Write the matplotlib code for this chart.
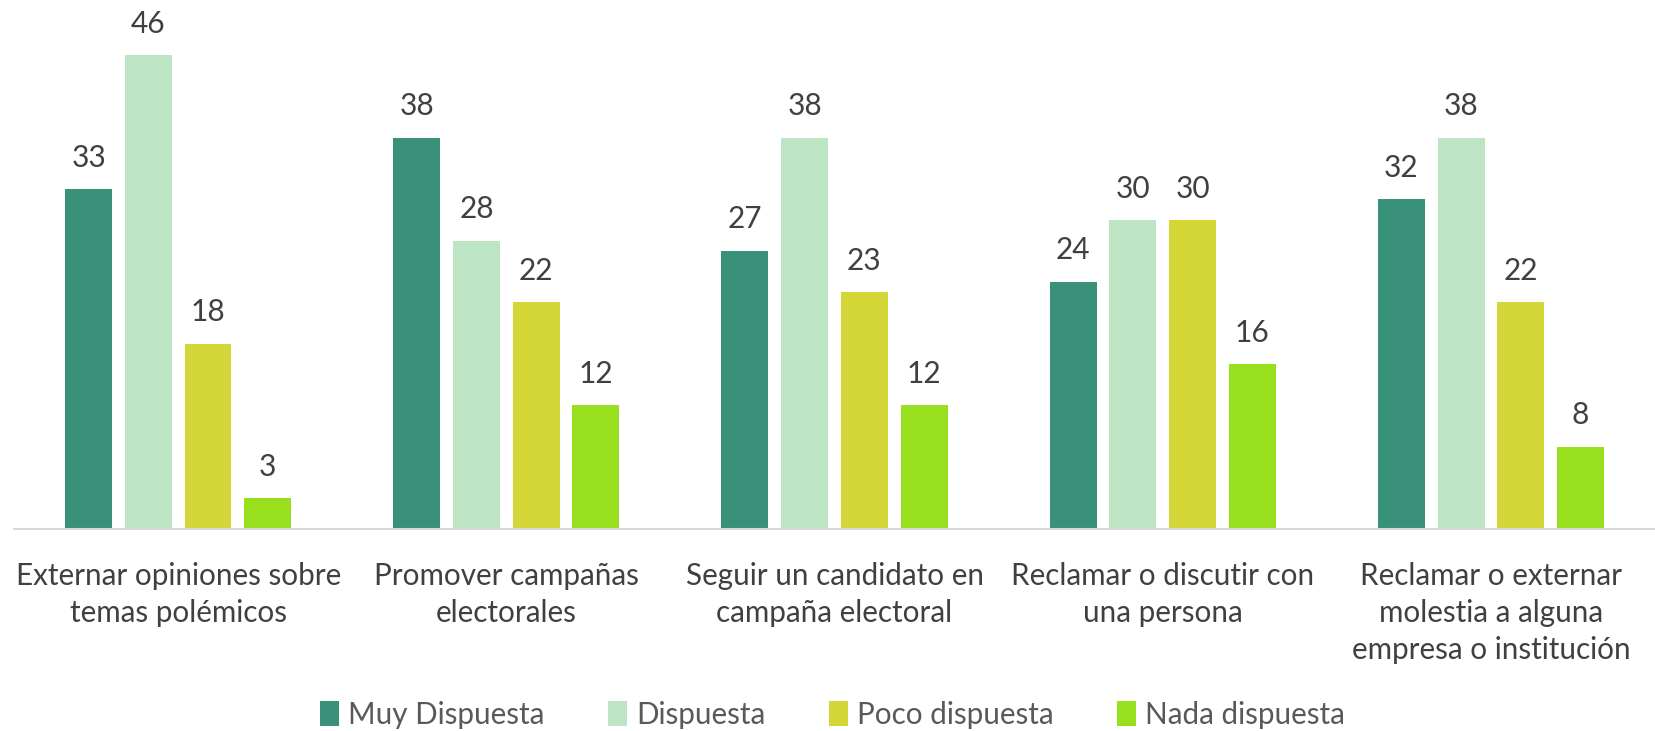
import numpy as np
import matplotlib.pyplot as plt

plt.rcParams['font.family'] = ['Lato', 'DejaVu Sans']

categories = ["Externar opiniones sobre\ntemas polémicos",
              "Promover campañas\nelectorales",
              "Seguir un candidato en\ncampaña electoral",
              "Reclamar o discutir con\nuna persona",
              "Reclamar o externar\nmolestia a alguna\nempresa o institución"]
series = ["Muy Dispuesta", "Dispuesta", "Poco dispuesta", "Nada dispuesta"]
muy = [33, 38, 27, 24, 32]
dispuesta = [46, 28, 38, 30, 38]
poco = [18, 22, 23, 30, 22]
nada = [3, 12, 12, 16, 8]
colors = ["#3A917A", "#BDE5C4", "#D4D637", "#98E01E"]

values = [muy, dispuesta, poco, nada]
x = np.arange(len(categories))
pitch = 0.182
width = 0.143

fig = plt.figure(figsize=(16.55, 7.31), dpi=100)
ax = fig.add_axes([0.0085, 0.2763, 0.9915, 0.7045])

for i, (name, vals, c) in enumerate(zip(series, values, colors)):
    pos = x + (i - 1.5) * pitch
    bars = ax.bar(pos, vals, width=width, color=c, label=name)
    for b, v in zip(bars, vals):
        ax.text(b.get_x() + b.get_width() / 2, v + 1.7, str(v),
                ha='center', va='bottom', fontsize=21.5, color='#404040')

ax.set_xlim(-0.5, len(categories) - 0.5)
ax.set_ylim(0, 50)
ax.set_yticks([])
ax.set_xticks(x)
ax.set_xticklabels(categories, fontsize=21.3, color='#404040', linespacing=1.38)
ax.tick_params(axis='x', length=0, pad=24)
for s in ['top', 'right', 'left']:
    ax.spines[s].set_visible(False)
ax.spines['bottom'].set_color('#D9D9D9')
ax.spines['bottom'].set_linewidth(1.5)

fig.legend(loc='center', bbox_to_anchor=(0.503, 0.022), ncol=4, frameon=False,
           fontsize=21.3, labelcolor='#595959', handlelength=0.65, handleheight=0.9,
           handletextpad=0.3, columnspacing=2.15)

fig.savefig('out.png', dpi=100)
